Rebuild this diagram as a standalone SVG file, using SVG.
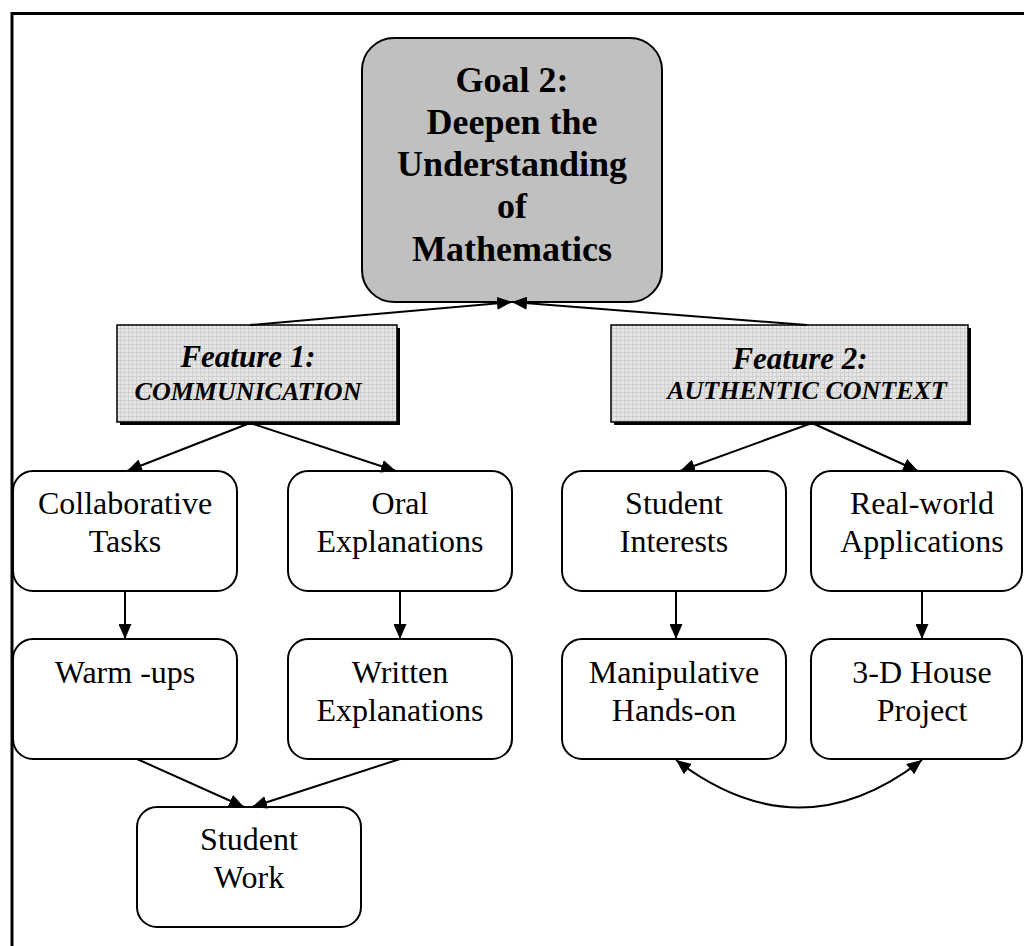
<svg xmlns="http://www.w3.org/2000/svg" width="1024" height="946" viewBox="0 0 1024 946">
<style>
.box{fill:#fff;stroke:#000;stroke-width:2}
.goal{fill:#c0c0c0;stroke:#000;stroke-width:2}
.feat{fill:url(#grid);stroke:#000;stroke-width:1.5}
.t{font-family:"Liberation Serif","Times New Roman",serif;font-size:32px;fill:#000;text-anchor:middle}
.g{font-family:"Liberation Serif","Times New Roman",serif;font-size:36px;font-weight:bold;fill:#000;text-anchor:middle}
.f1{font-family:"Liberation Serif","Times New Roman",serif;font-size:31px;font-weight:bold;font-style:italic;fill:#000;text-anchor:middle}
.f2{font-family:"Liberation Serif","Times New Roman",serif;font-size:26px;font-weight:bold;font-style:italic;fill:#000;text-anchor:middle}
.c{fill:none;stroke:#000;stroke-width:2}
</style>
<defs>
<pattern id="grid" width="4" height="4" patternUnits="userSpaceOnUse">
<rect width="4" height="4" fill="#e6e6e6"/>
<path d="M0 0.5H4M0.5 0V4" stroke="#cfcfcf" stroke-width="1"/>
</pattern>
<marker id="ah" viewBox="0 0 15 13" refX="15" refY="6.5" markerWidth="15" markerHeight="13" markerUnits="userSpaceOnUse" orient="auto-start-reverse">
<path d="M0 0L15 6.5L0 13z" fill="#000"/>
</marker>
</defs>
<rect width="1024" height="946" fill="#fff"/>
<path d="M12 946V13.5H1024" fill="none" stroke="#000" stroke-width="3"/>

<g id="goal">
<rect class="goal" x="362" y="38" width="300" height="264" rx="32"/>
<text class="g" x="512" y="92">Goal 2:</text>
<text class="g" x="512" y="134">Deepen the</text>
<text class="g" x="512" y="176">Understanding</text>
<text class="g" x="512" y="218">of</text>
<text class="g" x="512" y="261">Mathematics</text>
</g>

<g id="feature1">
<rect x="120" y="328" width="280" height="97" fill="#000"/>
<rect class="feat" x="117" y="325" width="280" height="97"/>
<text class="f1" x="248" y="367">Feature 1:</text>
<text class="f2" x="248" y="400">COMMUNICATION</text>
</g>

<g id="feature2">
<rect x="614" y="328" width="357" height="97" fill="#000"/>
<rect class="feat" x="611" y="325" width="357" height="97"/>
<text class="f1" x="800" y="369">Feature 2:</text>
<text class="f2" x="807" y="399">AUTHENTIC CONTEXT</text>
</g>

<g id="collab">
<rect class="box" x="13" y="471" width="224" height="120" rx="20"/>
<text class="t" x="125" y="514">Collaborative</text>
<text class="t" x="125" y="552">Tasks</text>
</g>
<g id="oral">
<rect class="box" x="288" y="471" width="224" height="120" rx="20"/>
<text class="t" x="400" y="514">Oral</text>
<text class="t" x="400" y="552">Explanations</text>
</g>
<g id="interests">
<rect class="box" x="562" y="471" width="224" height="120" rx="20"/>
<text class="t" x="674" y="514">Student</text>
<text class="t" x="674" y="552">Interests</text>
</g>
<g id="realworld">
<rect class="box" x="811" y="471" width="211" height="120" rx="20"/>
<text class="t" x="922" y="514">Real-world</text>
<text class="t" x="922" y="552">Applications</text>
</g>

<g id="warmups">
<rect class="box" x="13" y="639" width="224" height="120" rx="20"/>
<text class="t" x="125" y="683">Warm -ups</text>
</g>
<g id="written">
<rect class="box" x="288" y="639" width="224" height="120" rx="20"/>
<text class="t" x="400" y="683">Written</text>
<text class="t" x="400" y="721">Explanations</text>
</g>
<g id="manip">
<rect class="box" x="562" y="639" width="224" height="120" rx="20"/>
<text class="t" x="674" y="683">Manipulative</text>
<text class="t" x="674" y="721">Hands-on</text>
</g>
<g id="house">
<rect class="box" x="811" y="639" width="211" height="120" rx="20"/>
<text class="t" x="922" y="683">3-D House</text>
<text class="t" x="922" y="721">Project</text>
</g>

<g id="studentwork">
<rect class="box" x="137" y="807" width="224" height="120" rx="20"/>
<text class="t" x="249" y="850">Student</text>
<text class="t" x="249" y="888">Work</text>
</g>

<g id="connectors">
<line class="c" x1="250" y1="325" x2="512" y2="302" marker-end="url(#ah)"/>
<line class="c" x1="807" y1="325" x2="512" y2="302" marker-end="url(#ah)"/>
<line class="c" x1="250" y1="423" x2="127" y2="471" marker-end="url(#ah)"/>
<line class="c" x1="250" y1="423" x2="396" y2="471" marker-end="url(#ah)"/>
<line class="c" x1="812" y1="423" x2="680" y2="471" marker-end="url(#ah)"/>
<line class="c" x1="812" y1="423" x2="918" y2="471" marker-end="url(#ah)"/>
<line class="c" x1="125" y1="591" x2="125" y2="639" marker-end="url(#ah)"/>
<line class="c" x1="400" y1="591" x2="400" y2="639" marker-end="url(#ah)"/>
<line class="c" x1="676" y1="591" x2="676" y2="639" marker-end="url(#ah)"/>
<line class="c" x1="922" y1="591" x2="922" y2="639" marker-end="url(#ah)"/>
<line class="c" x1="137" y1="759" x2="244" y2="807" marker-end="url(#ah)"/>
<line class="c" x1="400" y1="759" x2="252" y2="807" marker-end="url(#ah)"/>
<path class="c" d="M676 760Q800 855 922 760" marker-start="url(#ah)" marker-end="url(#ah)"/>
</g>
</svg>
